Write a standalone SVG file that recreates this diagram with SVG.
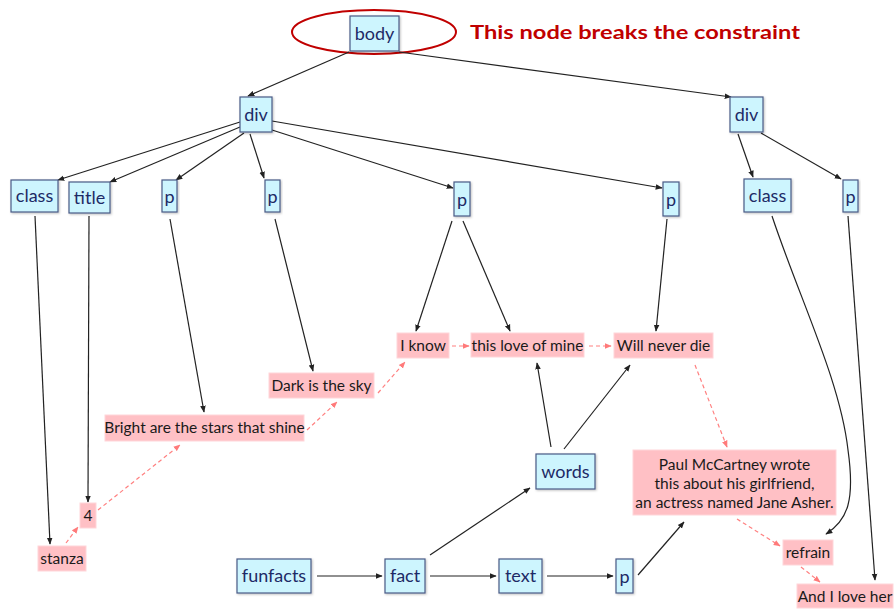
<svg xmlns="http://www.w3.org/2000/svg" width="895" height="609" viewBox="0 0 895 609">
  <defs>
    <marker id="arr" viewBox="0 0 10 10" refX="9" refY="5" markerWidth="7" markerHeight="7" orient="auto" markerUnits="userSpaceOnUse">
      <path d="M0,1 L10,5 L0,9 z" fill="#222"/>
    </marker>
    <marker id="arrp" viewBox="0 0 10 10" refX="9" refY="5" markerWidth="7" markerHeight="7" orient="auto" markerUnits="userSpaceOnUse">
      <path d="M0,1 L10,5 L0,9 z" fill="#ff7a7a"/>
    </marker>
    <filter id="sh" x="-20%" y="-20%" width="140%" height="140%">
      <feDropShadow dx="1" dy="1" stdDeviation="1" flood-color="#000" flood-opacity="0.25"/>
    </filter>
  </defs>
  <style>
    .n rect { fill: #cdf5fe; stroke: #4a5a86; stroke-width: 1.2; filter: url(#sh); }
    .n text { font-family: Lato, "Open Sans", sans-serif; font-size: 18px; fill: #1d2a66; text-anchor: middle; }
    .v rect { fill: #ffc0c5; stroke: #ffd6d9; stroke-width: 1; }
    .v text { font-family: Lato, "Open Sans", sans-serif; font-size: 15.5px; fill: #1a1a1a; text-anchor: middle; }
    .e { stroke: #222; stroke-width: 1.2; fill: none; marker-end: url(#arr); }
    .d { stroke: #ff8080; stroke-width: 1.2; fill: none; stroke-dasharray: 4 3; marker-end: url(#arrp); }
  </style>
  <rect width="895" height="609" fill="#fff"/>

  <!-- highlight around the root -->
  <ellipse cx="374" cy="32" rx="82" ry="22" fill="none" stroke="#c00000" stroke-width="2"/>
  <text x="470" y="39" font-family="Lato, 'Open Sans', sans-serif" font-size="18" font-weight="bold" fill="#c00000" textLength="330" lengthAdjust="spacingAndGlyphs">This node breaks the constraint</text>

  <g id="connectors">
    <line class="e" x1="349" y1="52" x2="248" y2="96"/>
    <line class="e" x1="399" y1="52" x2="731" y2="97"/>
    <line class="e" x1="240" y1="122" x2="58" y2="180"/>
    <line class="e" x1="240" y1="127" x2="110" y2="182"/>
    <line class="e" x1="244" y1="133" x2="176" y2="180"/>
    <line class="e" x1="250" y1="134" x2="264" y2="178"/>
    <line class="e" x1="272" y1="130" x2="453" y2="188"/>
    <line class="e" x1="272" y1="121" x2="662" y2="188"/>
    <line class="e" x1="738" y1="134" x2="753" y2="177"/>
    <line class="e" x1="761" y1="133" x2="841" y2="179"/>
    <line class="e" x1="35" y1="216" x2="50" y2="544"/>
    <line class="e" x1="89" y1="216" x2="88" y2="502"/>
    <line class="e" x1="170" y1="219" x2="204" y2="412"/>
    <line class="e" x1="275" y1="219" x2="313" y2="371"/>
    <line class="e" x1="452" y1="221" x2="416" y2="331"/>
    <line class="e" x1="463" y1="221" x2="510" y2="331"/>
    <line class="e" x1="667" y1="219" x2="656" y2="331"/>
    <path class="e" d="M772,216 C800,300 840,380 848,450 C855,500 848,520 826,534"/>
    <line class="e" x1="848" y1="216" x2="875" y2="580"/>
    <line class="e" x1="551" y1="447" x2="537" y2="363"/>
    <line class="e" x1="564" y1="449" x2="630" y2="365"/>
    <line class="e" x1="430" y1="555" x2="530" y2="488"/>
    <line class="e" x1="317" y1="576" x2="382" y2="576"/>
    <line class="e" x1="430" y1="576" x2="496" y2="576"/>
    <line class="e" x1="547" y1="576" x2="613" y2="576"/>
    <line class="e" x1="638" y1="575" x2="684" y2="522"/>

    <line class="d" x1="66" y1="543" x2="78" y2="527"/>
    <line class="d" x1="98" y1="510" x2="180" y2="445"/>
    <line class="d" x1="307" y1="430" x2="337" y2="402"/>
    <line class="d" x1="378" y1="393" x2="405" y2="362"/>
    <line class="d" x1="452" y1="346" x2="469" y2="346"/>
    <line class="d" x1="589" y1="346" x2="611" y2="346"/>
    <line class="d" x1="695" y1="365" x2="727" y2="447"/>
    <line class="d" x1="737" y1="519" x2="780" y2="546"/>
    <line class="d" x1="801" y1="567" x2="820" y2="582"/>
  </g>

  <g id="body" class="n"><rect x="350" y="16" width="49" height="35"/><text x="374.5" y="40">body</text></g>
  <g id="div1" class="n"><rect x="240" y="97" width="32" height="35"/><text x="256" y="121">div</text></g>
  <g id="div2" class="n"><rect x="730" y="97" width="33" height="35"/><text x="746.5" y="121">div</text></g>
  <g id="class1" class="n"><rect x="11" y="180" width="47" height="32"/><text x="34.5" y="202">class</text></g>
  <g id="title" class="n"><rect x="69" y="182" width="41" height="31"/><text x="89.5" y="204">title</text></g>
  <g id="p1" class="n"><rect x="162" y="180" width="15" height="32"/><text x="169.5" y="203">p</text></g>
  <g id="p2" class="n"><rect x="265" y="180" width="15" height="32"/><text x="272.5" y="203">p</text></g>
  <g id="p3" class="n"><rect x="454" y="182" width="16" height="34"/><text x="462" y="206">p</text></g>
  <g id="p4" class="n"><rect x="663" y="182" width="16" height="34"/><text x="671" y="206">p</text></g>
  <g id="class2" class="n"><rect x="744" y="179" width="47" height="33"/><text x="767.5" y="202">class</text></g>
  <g id="p5" class="n"><rect x="843" y="180" width="15" height="32"/><text x="850.5" y="203">p</text></g>
  <g id="words" class="n"><rect x="536" y="454" width="59" height="35"/><text x="565.5" y="478">words</text></g>
  <g id="funfacts" class="n"><rect x="237" y="559" width="74" height="34"/><text x="274" y="582">funfacts</text></g>
  <g id="fact" class="n"><rect x="385" y="559" width="40" height="34"/><text x="405" y="582">fact</text></g>
  <g id="text" class="n"><rect x="499" y="559" width="43" height="34"/><text x="520.5" y="582">text</text></g>
  <g id="p6" class="n"><rect x="616" y="559" width="17" height="34"/><text x="624.5" y="583">p</text></g>

  <g id="iknow" class="v"><rect x="397" y="333" width="52" height="25"/><text x="423" y="351">I know</text></g>
  <g id="thislove" class="v"><rect x="471" y="333" width="113" height="24"/><text x="527.5" y="351">this love of mine</text></g>
  <g id="willnever" class="v"><rect x="614" y="333" width="99" height="25"/><text x="663.5" y="351">Will never die</text></g>
  <g id="dark" class="v"><rect x="269" y="373" width="105" height="25"/><text x="321.5" y="391">Dark is the sky</text></g>
  <g id="bright" class="v"><rect x="105" y="415" width="199" height="26"/><text x="204.5" y="433">Bright are the stars that shine</text></g>
  <g id="paul" class="v"><rect x="633" y="450" width="203" height="65"/>
    <text x="734.5" y="470">Paul McCartney wrote</text>
    <text x="734.5" y="489">this about his girlfriend,</text>
    <text x="734.5" y="508">an actress named Jane Asher.</text>
  </g>
  <g id="refrain" class="v"><rect x="783" y="540" width="50" height="25"/><text x="808" y="558">refrain</text></g>
  <g id="andilove" class="v"><rect x="797" y="584" width="96" height="24"/><text x="845" y="602">And I love her</text></g>
  <g id="four" class="v"><rect x="80" y="503" width="16" height="25"/><text x="88" y="521">4</text></g>
  <g id="stanza" class="v"><rect x="38" y="546" width="48" height="25"/><text x="62" y="564">stanza</text></g>
</svg>
